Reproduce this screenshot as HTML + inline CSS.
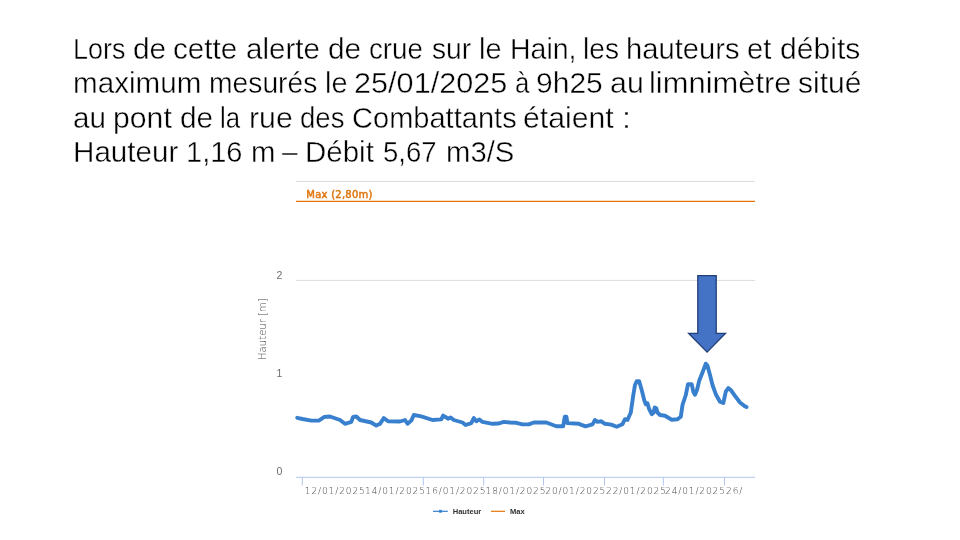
<!DOCTYPE html>
<html lang="fr">
<head>
<meta charset="utf-8">
<title>Alerte de crue sur le Hain</title>
<style>
html,body{margin:0;padding:0;background:#fff;}
body{width:960px;height:540px;position:relative;overflow:hidden;font-family:"Liberation Sans",sans-serif;}
.tl{position:absolute;left:0;width:960px;height:34px;will-change:transform;}
.w{position:absolute;top:0;white-space:pre;font-family:"Liberation Sans",sans-serif;font-size:28.6px;line-height:34px;height:34px;color:#000;-webkit-text-stroke:0.4px #fff;transform-origin:0 50%;}
svg{position:absolute;left:0;top:0;will-change:transform;}
</style>
</head>
<body>
<!--T-->
<div class="tl" style="top:31.95px">
<span class="w" style="left:73.14px;transform:scaleX(0.9420)">Lors </span>
<span class="w" style="left:132.93px;transform:scaleX(1.0435)">de </span>
<span class="w" style="left:173.44px;transform:scaleX(1.0381)">cette </span>
<span class="w" style="left:246.45px;transform:scaleX(1.0328)">alerte </span>
<span class="w" style="left:328.43px;transform:scaleX(1.0435)">de </span>
<span class="w" style="left:369.05px;transform:scaleX(0.9687)">crue </span>
<span class="w" style="left:431.51px;transform:scaleX(0.9868)">sur </span>
<span class="w" style="left:478.97px;transform:scaleX(1.0135)">le </span>
<span class="w" style="left:510.01px;transform:scaleX(0.9959)">Hain, </span>
<span class="w" style="left:582.78px;transform:scaleX(0.9848)">les </span>
<span class="w" style="left:626.45px;transform:scaleX(1.0209)">hauteurs </span>
<span class="w" style="left:747.22px;transform:scaleX(1.0227)">et </span>
<span class="w" style="left:780.17px;transform:scaleX(1.0524)">débits</span>
</div>
<div class="tl" style="top:66.30px">
<span class="w" style="left:73.17px;transform:scaleX(1.0356)">maximum </span>
<span class="w" style="left:209.03px;transform:scaleX(0.9882)">mesurés </span>
<span class="w" style="left:325.22px;transform:scaleX(1.0135)">le </span>
<span class="w" style="left:354.38px;transform:scaleX(1.0714)">25/01/2025 </span>
<span class="w" style="left:514.74px;transform:scaleX(0.9000)">à </span>
<span class="w" style="left:535.93px;transform:scaleX(1.0494)">9h25 </span>
<span class="w" style="left:609.66px;transform:scaleX(1.0619)">au </span>
<span class="w" style="left:648.82px;transform:scaleX(1.0801)">limnimètre </span>
<span class="w" style="left:797.70px;transform:scaleX(1.0509)">situé</span>
</div>
<div class="tl" style="top:100.65px">
<span class="w" style="left:72.95px;transform:scaleX(1.0354)">au </span>
<span class="w" style="left:112.89px;transform:scaleX(1.0563)">pont </span>
<span class="w" style="left:179.68px;transform:scaleX(1.0435)">de </span>
<span class="w" style="left:220.34px;transform:scaleX(0.9000)">la </span>
<span class="w" style="left:249.37px;transform:scaleX(1.0600)">rue </span>
<span class="w" style="left:299.80px;transform:scaleX(0.9653)">des </span>
<span class="w" style="left:351.97px;transform:scaleX(1.0157)">Combattants </span>
<span class="w" style="left:523.42px;transform:scaleX(1.0565)">étaient </span>
<span class="w" style="left:622.00px;transform:scaleX(1.1300)">:</span>
</div>
<div class="tl" style="top:135.05px">
<span class="w" style="left:72.91px;transform:scaleX(1.0355)">Hauteur </span>
<span class="w" style="left:186.21px;transform:scaleX(1.0145)">1,16 </span>
<span class="w" style="left:250.69px;transform:scaleX(1.0256)">m </span>
<span class="w" style="left:282.25px;transform:scaleX(0.9839)">– </span>
<span class="w" style="left:305.42px;transform:scaleX(1.0314)">Débit </span>
<span class="w" style="left:383.06px;transform:scaleX(0.9619)">5,67 </span>
<span class="w" style="left:445.70px;transform:scaleX(1.0238)">m3/S</span>
</div>
<!--/T-->
<svg width="960" height="540" viewBox="0 0 960 540">
  <!-- grid -->
  <line x1="296" y1="181.4" x2="755" y2="181.4" stroke="#dcdcdc" stroke-width="1"/>
  <line x1="296" y1="280.4" x2="755" y2="280.4" stroke="#dcdcdc" stroke-width="1"/>
  <!-- max plot line -->
  <line x1="296" y1="201.4" x2="755" y2="201.4" stroke="#e8750c" stroke-width="1.1"/>
  <text x="306.3" y="197.6" font-family="'DejaVu Sans',sans-serif" font-size="10" letter-spacing="0.25" fill="#e07812" stroke="#e07812" stroke-width="0.5">Max (2,80m)</text>
  <!-- x axis -->
  <line x1="296" y1="477.3" x2="755" y2="477.3" stroke="#b4c6ee" stroke-width="1"/>
  <g stroke="#b4c6ee" stroke-width="1">
    <line x1="302.3" y1="477" x2="302.3" y2="485.5"/>
    <line x1="423.3" y1="477" x2="423.3" y2="485.5"/>
    <line x1="483.7" y1="477" x2="483.7" y2="485.5"/>
    <line x1="543.5" y1="477" x2="543.5" y2="485.5"/>
    <line x1="604.5" y1="477" x2="604.5" y2="485.5"/>
    <line x1="663.3" y1="477" x2="663.3" y2="485.5"/>
    <line x1="724.5" y1="477" x2="724.5" y2="485.5"/>
  </g>
  <!-- y labels -->
  <g font-family="'Liberation Sans',sans-serif" font-size="10.5" fill="#6c6c6c" text-anchor="middle">
    <text x="279.4" y="279">2</text>
    <text x="279.4" y="377">1</text>
    <text x="279.4" y="475">0</text>
  </g>
  <text transform="translate(265.6,360) rotate(-90)" font-family="'DejaVu Sans',sans-serif" font-weight="200" font-size="10.1" fill="#444">Hauteur [m]</text>
  <!-- x labels -->
  <g font-family="'DejaVu Sans',sans-serif" font-weight="200" font-size="9" fill="#444" letter-spacing="0.9">
    <text x="304.8" y="493.8">12/01/2025</text>
    <text x="365" y="493.8">14/01/2025</text>
    <text x="425.5" y="493.8">16/01/2025</text>
    <text x="485.5" y="493.8">18/01/2025</text>
    <text x="545.3" y="493.8">20/01/2025</text>
    <text x="606" y="493.8">22/01/2025</text>
    <text x="665" y="493.8">24/01/2025</text>
    <text x="726" y="493.8">26/</text>
  </g>
  <!-- series -->
  <polyline id="serie" fill="none" stroke="#3880ce" stroke-width="3.9" stroke-linejoin="round" stroke-linecap="round" points="
297.2,417.8 302.5,419 311.3,420.6 318.8,420.6 324.4,416.9 330,416.5 340,420 345,423.8 351.3,421.9 353.1,416.9 356.3,416.5 360,420 371.3,422.5 376.3,425.6 380,423.8 383.8,418.1 388.1,421.3 400,421.5 405,420 407.5,423.8 411.3,420.6 413.8,415 421.3,416.3 432.5,420 441.3,419.4 443.1,415.6 446.3,417.5 448,418.8 450.6,417.5 453.8,420 462.5,422.5 465.6,425 471.3,423.1 473.8,418.1 476.3,421.3 479.4,419.4 482.5,421.9 492.5,423.8 498.8,423.5 503.8,421.9 510,422.5 516.3,422.8 522.5,424.4 528.8,424.4 533.8,422.5 546.3,422.5 556.3,426.3 563.2,426.2 564.8,416.6 566.4,416.8 567.4,423.1 578.8,423.8 585.6,426.3 592.5,424.4 595,420 597.5,421.9 601.3,421.3 605,423.8 611.3,424.6 616.7,426.7 622.5,424.2 625,419.2 627.5,420 630.8,412.5 633.3,395 635,385 636.7,381.3 639.2,381.3 641.7,390 644.2,400 645.8,404.2 647.5,403.3 649.2,409.2 651.7,414.2 653.7,412.5 654.7,407.5 656.3,408.3 657.5,412.5 660,415 665,415.8 671.7,419.7 677.5,419.2 680.8,416.7 682.5,405 685.8,395 688,384.2 691.7,384.2 693.3,391.7 695,394.7 697,390 699.2,380.8 702.5,372.5 705.8,363.7 707.5,365.8 710,375 712.5,385 715.8,394.2 720,401.7 723.3,403 725.8,391.7 728.3,388 730.8,390 735,395.8 740,402.5 744.5,406.1 746.6,407"/>
  <!-- legend -->
  <line x1="433" y1="511.3" x2="447.8" y2="511.3" stroke="#357fd0" stroke-width="1.2"/>
  <rect x="439.1" y="509.9" width="2.8" height="2.8" fill="#357fd0"/>
  <line x1="491" y1="511.3" x2="505" y2="511.3" stroke="#e8750c" stroke-width="1.2"/>
  <g font-family="'Liberation Sans',sans-serif" font-weight="bold" font-size="7.55" fill="#333">
    <text x="452.7" y="514">Hauteur</text>
    <text x="510" y="514">Max</text>
  </g>
  <!-- arrow -->
  <polygon points="697.8,275.6 716.2,275.6 716.2,333.3 725.5,333.3 707.1,352.1 688.6,333.3 697.8,333.3" fill="#4472c4" stroke="#223f78" stroke-width="1.3" stroke-linejoin="miter"/>
</svg>
</body>
</html>
